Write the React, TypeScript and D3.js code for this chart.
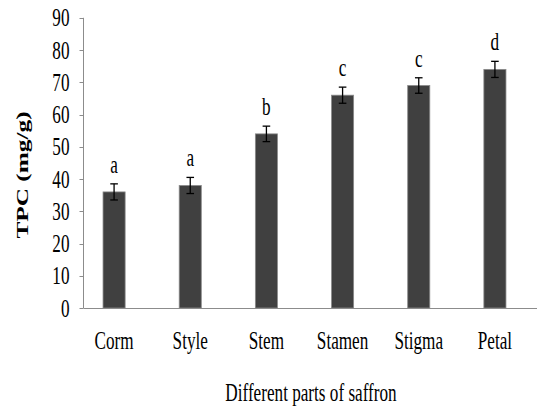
import { useEffect, useRef } from 'react';
import * as d3 from 'd3';

const categories = ['Corm', 'Style', 'Stem', 'Stamen', 'Stigma', 'Petal'];
const tpcValues = [36, 38, 54, 66, 69, 74];
const tpcErrors = [2.5, 2.5, 2.4, 2.5, 2.4, 2.5];
const groupLetters = ['a', 'a', 'b', 'c', 'c', 'd'];
const yTicks = [0, 10, 20, 30, 40, 50, 60, 70, 80, 90];

const WIDTH = 537;
const HEIGHT = 409;
// the original text is a tall, narrow Times — squeeze x and stretch y
const SX = 0.78;
const SY = 1.15;
const FONT = '"Liberation Serif", "Times New Roman", serif';

export default function App() {
  const svgRef = useRef<SVGSVGElement>(null);

  useEffect(() => {
    if (!svgRef.current) return;
    const svg = d3.select(svgRef.current);
    svg.selectAll('*').remove();

    const axisX = 83.5;
    const x = d3.scaleBand<string>()
      .domain(categories)
      .range([76, 533])
      .paddingInner(0.71)
      .paddingOuter(0.355);
    const y = d3.scaleLinear().domain([0, 90]).range([308, 17.8]);

    const data = categories.map((c, i) => ({
      name: c,
      value: tpcValues[i],
      err: tpcErrors[i],
      letter: groupLetters[i],
    }));

    // y axis line + ticks
    svg.append('line')
      .attr('x1', axisX).attr('x2', axisX)
      .attr('y1', y(90)).attr('y2', y(0))
      .attr('stroke', '#8c8c8c').attr('stroke-width', 1);
    svg.selectAll('.ytick')
      .data(yTicks)
      .enter()
      .append('line')
      .attr('x1', axisX - 4).attr('x2', axisX)
      .attr('y1', d => Math.round(y(d)) + 0.5).attr('y2', d => Math.round(y(d)) + 0.5)
      .attr('stroke', '#8c8c8c');
    svg.selectAll('.ylabel')
      .data(yTicks)
      .enter()
      .append('g')
      .attr('transform', d => `translate(69.5, ${y(d)}) scale(${SX}, ${SY})`)
      .append('text')
      .attr('text-anchor', 'end')
      .attr('dy', '0.34em')
      .style('font-family', FONT)
      .style('font-size', '22px')
      .attr('fill', '#000')
      .text(d => d);

    // x axis line
    svg.append('line')
      .attr('x1', axisX).attr('x2', WIDTH)
      .attr('y1', y(0) + 0.5).attr('y2', y(0) + 0.5)
      .attr('stroke', '#8c8c8c').attr('stroke-width', 1);

    // bars
    svg.selectAll('.bar')
      .data(data)
      .enter()
      .append('rect')
      .attr('x', d => x(d.name) || 0)
      .attr('y', d => y(d.value))
      .attr('width', x.bandwidth())
      .attr('height', d => y(0) - y(d.value))
      .attr('fill', '#404040')
      .attr('stroke', '#8a8a8a')
      .attr('stroke-width', 0.8);

    // error bars
    const eb = svg.selectAll('.err')
      .data(data)
      .enter()
      .append('g')
      .attr('stroke', '#000')
      .attr('stroke-width', 1.3);
    const cx = (d: { name: string }) => (x(d.name) || 0) + x.bandwidth() / 2;
    eb.append('line')
      .attr('x1', cx).attr('x2', cx)
      .attr('y1', d => y(d.value + d.err)).attr('y2', d => y(d.value - d.err));
    eb.append('line')
      .attr('x1', d => cx(d) - 3.8).attr('x2', d => cx(d) + 3.8)
      .attr('y1', d => y(d.value + d.err)).attr('y2', d => y(d.value + d.err));
    eb.append('line')
      .attr('x1', d => cx(d) - 3.8).attr('x2', d => cx(d) + 3.8)
      .attr('y1', d => y(d.value - d.err)).attr('y2', d => y(d.value - d.err));

    // significance letters
    svg.selectAll('.letter')
      .data(data)
      .enter()
      .append('g')
      .attr('transform', d => `translate(${cx(d)}, ${y(d.value + d.err) - 11}) scale(${SX}, ${SY})`)
      .append('text')
      .attr('text-anchor', 'middle')
      .style('font-family', FONT)
      .style('font-size', '22px')
      .attr('fill', '#000')
      .text(d => d.letter);

    // category labels
    svg.selectAll('.xlabel')
      .data(data)
      .enter()
      .append('g')
      .attr('transform', d => `translate(${cx(d)}, 349) scale(${SX}, ${SY})`)
      .append('text')
      .attr('text-anchor', 'middle')
      .style('font-family', FONT)
      .style('font-size', '22px')
      .attr('fill', '#000')
      .text(d => d.name);

    // axis titles
    svg.append('g')
      .attr('transform', `translate(311, 401) scale(${SX}, ${SY})`)
      .append('text')
      .attr('text-anchor', 'middle')
      .style('font-family', FONT)
      .style('font-size', '22px')
      .attr('fill', '#000')
      .text('Different parts of saffron');

    svg.append('g')
      .attr('transform', `translate(27.5, 175) scale(${SX}, ${SY}) rotate(-90)`)
      .append('text')
      .attr('text-anchor', 'middle')
      .style('font-family', FONT)
      .style('font-size', '22px')
      .style('font-weight', 'bold')
      .attr('fill', '#000')
      .text('TPC (mg/g)');
  }, []);

  return (
    <svg
      ref={svgRef}
      width={WIDTH}
      height={HEIGHT}
      style={{ position: 'absolute', left: 0, top: 0, background: '#fff' }}
    />
  );
}
